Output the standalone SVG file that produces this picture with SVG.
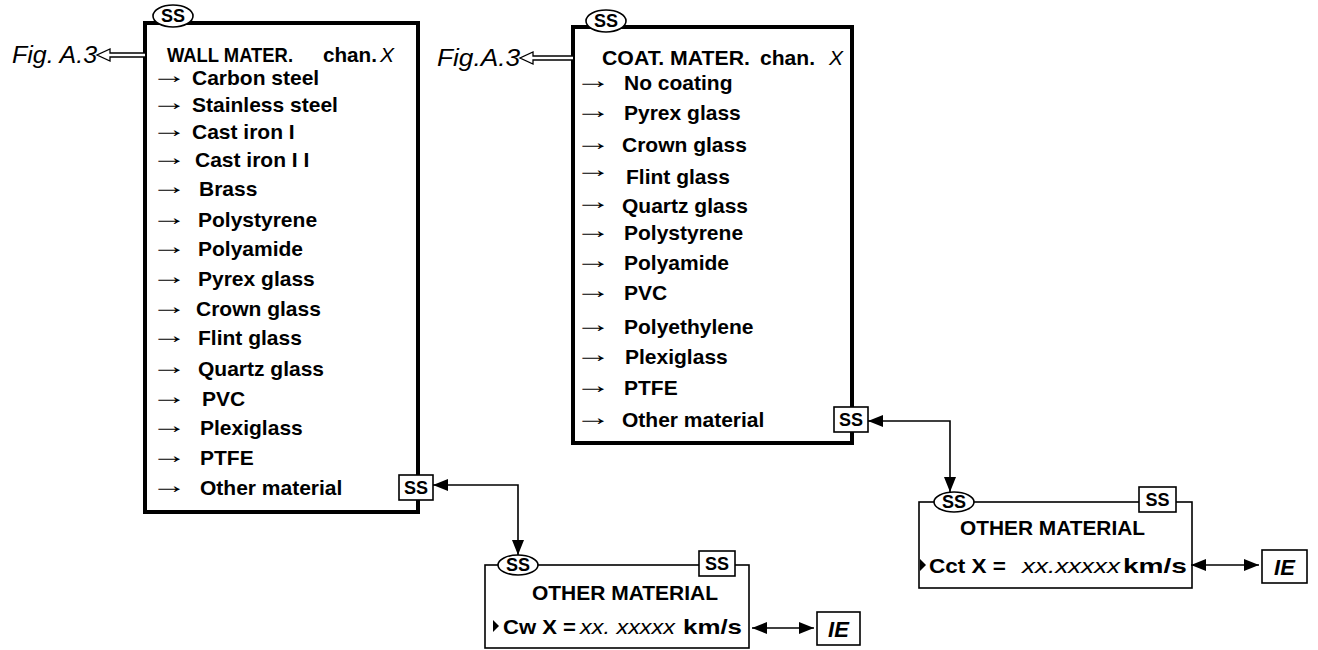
<svg xmlns="http://www.w3.org/2000/svg" width="1318" height="650" viewBox="0 0 1318 650">
<style>
.thick{fill:#fff;stroke:#000;stroke-width:4}
.thin{fill:#fff;stroke:#000;stroke-width:1.6}
.b{font-family:"Liberation Sans",Arial,sans-serif;font-weight:bold;font-size:21px;fill:#000}
.it{font-family:"Liberation Sans",Arial,sans-serif;font-style:italic;font-size:21px;fill:#000}
.fig{font-family:"Liberation Sans",Arial,sans-serif;font-style:italic;font-size:23px;fill:#000}
.ss{font-family:"Liberation Sans",Arial,sans-serif;font-weight:bold;font-size:18px;text-anchor:middle;fill:#000}
.ie{font-family:"Liberation Sans",Arial,sans-serif;font-weight:bold;font-style:italic;font-size:22px;text-anchor:middle;fill:#000}
.arr{font-family:"Liberation Serif","DejaVu Serif",serif;font-size:24px;fill:#000}
.ln{fill:none;stroke:#000;stroke-width:1.6}
.hollow{fill:#fff;stroke:#000;stroke-width:1.3}
</style>
<defs>
<marker id="ah" viewBox="0 0 15 12" refX="15" refY="6" markerWidth="15" markerHeight="12" markerUnits="userSpaceOnUse" orient="auto-start-reverse">
<path d="M0,0 L15,6 L0,12 Z" fill="#000"/>
</marker>
</defs>

<g id="wall-box">
<rect class="thick" x="145" y="23" width="273" height="489"/>
<ellipse class="thin" cx="173" cy="16" rx="20" ry="11"/>
<text class="ss" x="173" y="22">SS</text>
<text class="b" x="167" y="62" textLength="126" lengthAdjust="spacingAndGlyphs">WALL MATER.</text>
<text class="b" x="323" y="62" textLength="54" lengthAdjust="spacingAndGlyphs">chan.</text>
<text class="it" x="380" y="62">X</text>
<g class="arr">
<text transform="translate(151,83) scale(1.5,1)">→</text>
<text transform="translate(151,110) scale(1.5,1)">→</text>
<text transform="translate(151,137) scale(1.5,1)">→</text>
<text transform="translate(151,165) scale(1.5,1)">→</text>
<text transform="translate(151,194) scale(1.5,1)">→</text>
<text transform="translate(151,225) scale(1.5,1)">→</text>
<text transform="translate(151,254) scale(1.5,1)">→</text>
<text transform="translate(151,284) scale(1.5,1)">→</text>
<text transform="translate(151,314) scale(1.5,1)">→</text>
<text transform="translate(151,343) scale(1.5,1)">→</text>
<text transform="translate(151,374) scale(1.5,1)">→</text>
<text transform="translate(151,404) scale(1.5,1)">→</text>
<text transform="translate(151,433) scale(1.5,1)">→</text>
<text transform="translate(151,463) scale(1.5,1)">→</text>
<text transform="translate(151,493) scale(1.5,1)">→</text>
</g>
<text class="b" x="192" y="85">Carbon steel</text>
<text class="b" x="192" y="112">Stainless steel</text>
<text class="b" x="192" y="139">Cast iron I</text>
<text class="b" x="195" y="167">Cast iron I I</text>
<text class="b" x="199" y="196">Brass</text>
<text class="b" x="198" y="227">Polystyrene</text>
<text class="b" x="198" y="256">Polyamide</text>
<text class="b" x="198" y="286">Pyrex glass</text>
<text class="b" x="196" y="316">Crown glass</text>
<text class="b" x="198" y="345">Flint glass</text>
<text class="b" x="198" y="376">Quartz glass</text>
<text class="b" x="202" y="406">PVC</text>
<text class="b" x="200" y="435">Plexiglass</text>
<text class="b" x="200" y="465">PTFE</text>
<text class="b" x="200" y="495">Other material</text>
<rect class="thin" x="399" y="475" width="34" height="25"/>
<text class="ss" x="416" y="494">SS</text>
</g>

<g id="wall-fig">
<text class="fig" x="12" y="63" textLength="85" lengthAdjust="spacingAndGlyphs">Fig. A.3</text>
<path class="hollow" d="M145,53 L110,53 L110,49 L97,55 L110,61 L110,57 L145,57"/>
</g>

<g id="coat-box">
<rect class="thick" x="573" y="27" width="279" height="416"/>
<ellipse class="thin" cx="606" cy="21" rx="20" ry="11"/>
<text class="ss" x="606" y="27">SS</text>
<text class="b" x="602" y="65" textLength="148" lengthAdjust="spacingAndGlyphs">COAT. MATER.</text>
<text class="b" x="760" y="65" textLength="55" lengthAdjust="spacingAndGlyphs">chan.</text>
<text class="it" x="829" y="65">X</text>
<g class="arr">
<text transform="translate(575,88) scale(1.5,1)">→</text>
<text transform="translate(575,118) scale(1.5,1)">→</text>
<text transform="translate(575,150) scale(1.5,1)">→</text>
<text transform="translate(575,177) scale(1.5,1)">→</text>
<text transform="translate(575,209) scale(1.5,1)">→</text>
<text transform="translate(575,238) scale(1.5,1)">→</text>
<text transform="translate(575,268) scale(1.5,1)">→</text>
<text transform="translate(575,298) scale(1.5,1)">→</text>
<text transform="translate(575,332) scale(1.5,1)">→</text>
<text transform="translate(575,362) scale(1.5,1)">→</text>
<text transform="translate(575,393) scale(1.5,1)">→</text>
<text transform="translate(575,425) scale(1.5,1)">→</text>
</g>
<text class="b" x="624" y="90">No coating</text>
<text class="b" x="624" y="120">Pyrex glass</text>
<text class="b" x="622" y="152">Crown glass</text>
<text class="b" x="626" y="184">Flint glass</text>
<text class="b" x="622" y="213">Quartz glass</text>
<text class="b" x="624" y="240">Polystyrene</text>
<text class="b" x="624" y="270">Polyamide</text>
<text class="b" x="624" y="300">PVC</text>
<text class="b" x="624" y="334">Polyethylene</text>
<text class="b" x="625" y="364">Plexiglass</text>
<text class="b" x="624" y="395">PTFE</text>
<text class="b" x="622" y="427">Other material</text>
<rect class="thin" x="834" y="407" width="34" height="25"/>
<text class="ss" x="851" y="426">SS</text>
</g>

<g id="coat-fig">
<text class="fig" x="437" y="66" textLength="83" lengthAdjust="spacingAndGlyphs">Fig.A.3</text>
<path class="hollow" d="M573,56 L533,56 L533,52 L520,58 L533,64 L533,60 L573,60"/>
</g>

<g id="wall-other">
<rect class="thin" x="485" y="565" width="264" height="83"/>
<ellipse class="thin" cx="518" cy="565" rx="20" ry="10"/>
<text class="ss" x="518" y="571">SS</text>
<rect class="thin" x="699" y="551" width="36" height="25"/>
<text class="ss" x="717" y="570">SS</text>
<text class="b" x="532" y="600" textLength="186" lengthAdjust="spacingAndGlyphs">OTHER MATERIAL</text>
<path d="M493,620 L499,626 L493,632 Z" fill="#000"/>
<text class="b" x="503" y="634" textLength="73" lengthAdjust="spacingAndGlyphs">Cw X =</text>
<text class="it" x="580" y="634" textLength="95" lengthAdjust="spacingAndGlyphs">xx. xxxxx</text>
<text class="b" x="683" y="634" textLength="59" lengthAdjust="spacingAndGlyphs">km/s</text>
</g>

<g id="wall-ie">
<rect class="thin" x="817" y="612" width="43" height="33"/>
<text class="ie" x="838.5" y="637">IE</text>
</g>

<g id="coat-other">
<rect class="thin" x="919" y="502" width="273" height="86"/>
<ellipse class="thin" cx="954" cy="502" rx="20" ry="10"/>
<text class="ss" x="954" y="508">SS</text>
<rect class="thin" x="1139" y="487" width="37" height="25"/>
<text class="ss" x="1157.5" y="506">SS</text>
<text class="b" x="960" y="535" textLength="185" lengthAdjust="spacingAndGlyphs">OTHER MATERIAL</text>
<path d="M920,559 L926,565 L920,571 Z" fill="#000"/>
<text class="b" x="929" y="573" textLength="77" lengthAdjust="spacingAndGlyphs">Cct X =</text>
<text class="it" x="1022" y="573" textLength="98" lengthAdjust="spacingAndGlyphs">xx.xxxxx</text>
<text class="b" x="1123" y="573" textLength="64" lengthAdjust="spacingAndGlyphs">km/s</text>
</g>

<g id="coat-ie">
<rect class="thin" x="1262" y="550" width="45" height="33"/>
<text class="ie" x="1284.5" y="575">IE</text>
</g>

<g id="connectors">
<polyline class="ln" points="433,485 518,485 518,555" marker-start="url(#ah)" marker-end="url(#ah)"/>
<polyline class="ln" points="868,421 950,421 950,492" marker-start="url(#ah)" marker-end="url(#ah)"/>
<line class="ln" x1="752" y1="628" x2="814" y2="628" marker-start="url(#ah)" marker-end="url(#ah)"/>
<line class="ln" x1="1191" y1="565" x2="1259" y2="565" marker-start="url(#ah)" marker-end="url(#ah)"/>
</g>
</svg>
